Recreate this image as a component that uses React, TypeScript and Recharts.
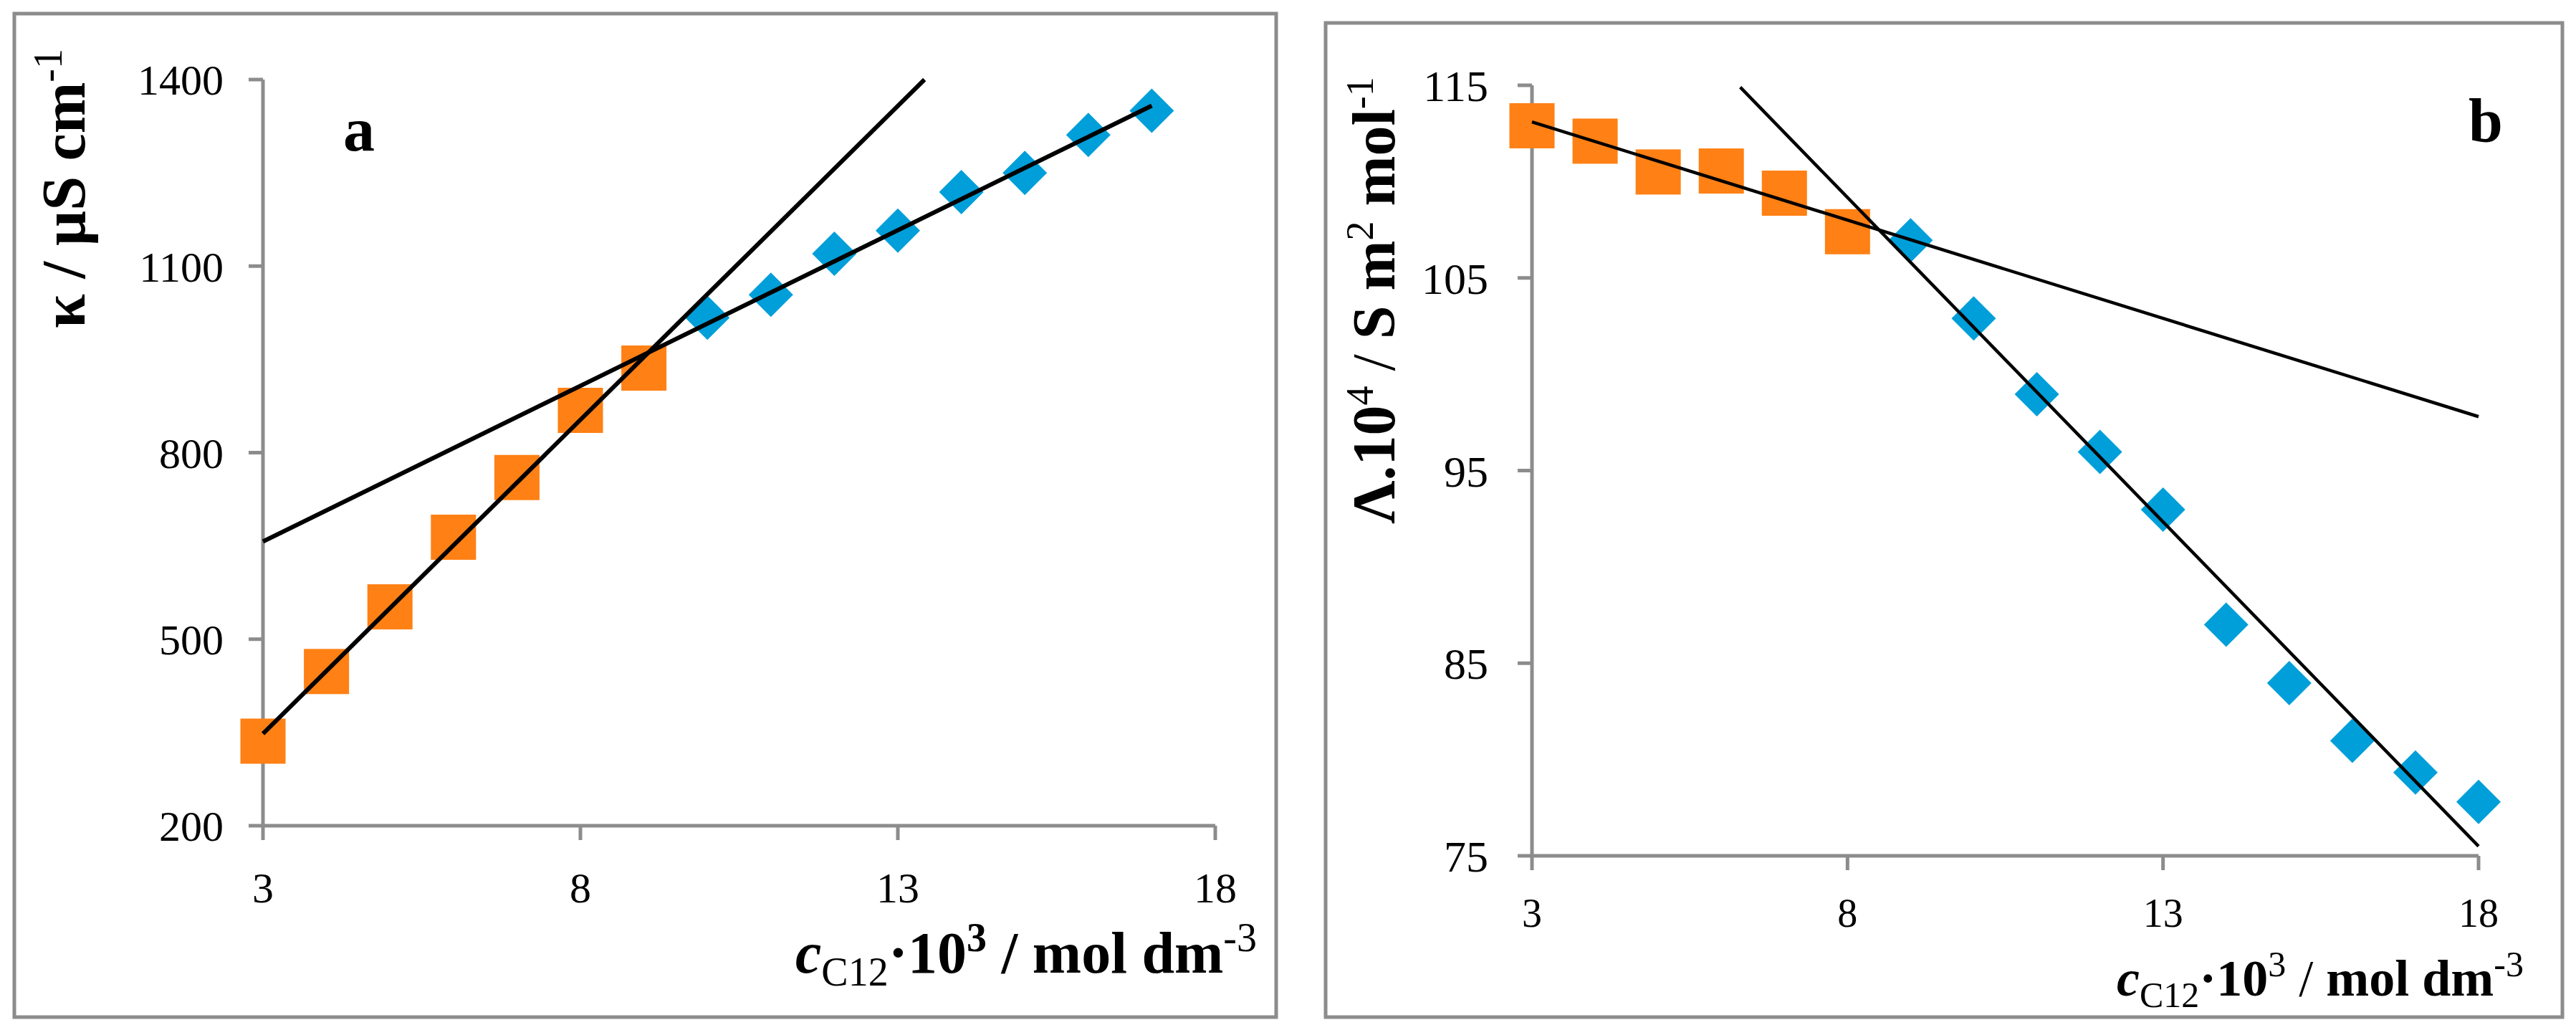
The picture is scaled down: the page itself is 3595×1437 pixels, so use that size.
import React from 'react';
import { ScatterChart, Scatter, XAxis, YAxis, Customized } from 'recharts';

// ---------- data ----------
const xTicks = [3, 8, 13, 18];
const kappaTicks = [200, 500, 800, 1100, 1400];
const lambdaTicks = [75, 85, 95, 105, 115];

// panel a : conductivity
const kappaPreX = [3, 4, 5, 6, 7, 8, 9];
const kappaPreY = [336, 448, 552, 664, 760, 868, 936];
const kappaPostX = [10, 11, 12, 13, 14, 15, 16, 17];
const kappaPostY = [1017, 1054, 1120, 1157, 1219, 1250, 1311, 1350];
const kappaFitPreX = [3, 13.42];
const kappaFitPreY = [348, 1400];
const kappaFitPostX = [3, 17];
const kappaFitPostY = [657, 1358];

// panel b : molar conductivity
const lambdaPreX = [3, 4, 5, 6, 7, 8];
const lambdaPreY = [112.9, 112.1, 110.5, 110.55, 109.4, 107.4];
const lambdaPostX = [9, 10, 11, 12, 13, 14, 15, 16, 17, 18];
const lambdaPostY = [106.95, 102.9, 98.96, 95.97, 92.97, 87.0, 83.97, 80.97, 79.33, 77.8];
const lambdaFitPreX = [3, 18];
const lambdaFitPreY = [113.1, 97.8];
const lambdaFitPostX = [6.3, 18];
const lambdaFitPostY = [114.9, 75.5];

const zip = (xs: number[], ys: number[]) => xs.map((x, i) => ({ x, y: ys[i] }));

// ---------- styles ----------
const ORANGE = '#FF8014';
const BLUE = '#009FDA';
const GREY = '#8C8C8C';
const SERIF = '"Liberation Serif", "Times New Roman", serif';

const SquareShape = (props: any) => {
  const { cx, cy } = props;
  const s = 63;
  return <rect x={cx - s / 2} y={cy - s / 2} width={s} height={s} fill={ORANGE} />;
};
const DiamondShape = (props: any) => {
  const { cx, cy } = props;
  const r = 31;
  return <path d={`M${cx},${cy - r}L${cx + r},${cy}L${cx},${cy + r}L${cx - r},${cy}Z`} fill={BLUE} />;
};
const NoShape = () => <g />;

const FrameA = () => (
  <rect x={20} y={19} width={1761} height={1400} fill="none" stroke={GREY} strokeWidth={5} />
);
const FrameB = () => (
  <rect x={50} y={32} width={1726} height={1387} fill="none" stroke={GREY} strokeWidth={5} />
);

const TitlesA = () => (
  <g fontFamily={SERIF} fill="#000">
    <text x={501} y={210} textAnchor="middle" fontWeight="bold" fontSize={88}>a</text>
    <text transform="translate(118,263) rotate(-90)" textAnchor="middle" fontWeight="bold" fontSize={86}>
      <tspan>κ / µS cm</tspan>
      <tspan dy={-32} fontSize={56} fontWeight="normal">-1</tspan>
    </text>
    <text x={1754} y={1357} textAnchor="end" fontWeight="bold" fontSize={82}>
      <tspan fontStyle="italic">c</tspan>
      <tspan dy={18} fontSize={56} fontWeight="normal">C12</tspan>
      <tspan dy={-18}>·10</tspan>
      <tspan dy={-30} fontSize={56}>3</tspan>
      <tspan dy={30}> / mol dm</tspan>
      <tspan dy={-30} fontSize={56} fontWeight="normal">-3</tspan>
    </text>
  </g>
);

const TitlesB = () => (
  <g fontFamily={SERIF} fill="#000">
    <text x={1669} y={197} textAnchor="middle" fontWeight="bold" fontSize={86}>b</text>
    <text transform="translate(146,419) rotate(-90)" textAnchor="middle" fontWeight="bold" fontSize={84}>
      <tspan>Λ.10</tspan>
      <tspan dy={-30} fontSize={54} fontWeight="normal">4</tspan>
      <tspan dy={30} fontWeight="normal"> / </tspan>
      <tspan>S m</tspan>
      <tspan dy={-30} fontSize={54} fontWeight="normal">2</tspan>
      <tspan dy={30}> mol</tspan>
      <tspan dy={-30} fontSize={54} fontWeight="normal">-1</tspan>
    </text>
    <text x={1722} y={1389} textAnchor="end" fontWeight="bold" fontSize={72}>
      <tspan fontStyle="italic">c</tspan>
      <tspan dy={16} fontSize={50} fontWeight="normal">C12</tspan>
      <tspan dy={-16}>·10</tspan>
      <tspan dy={-27} fontSize={50} fontWeight="normal">3</tspan>
      <tspan dy={27} fontWeight="normal"> / </tspan>
      <tspan>mol dm</tspan>
      <tspan dy={-27} fontSize={50} fontWeight="normal">-3</tspan>
    </text>
  </g>
);

const axisLine = { stroke: GREY, strokeWidth: 5 };
const tickLine = { stroke: GREY, strokeWidth: 5 };

export default function App() {
  return (
    <div style={{ position: 'absolute', left: 0, top: 0, width: 3595, height: 1437, background: '#fff' }}>
      <div style={{ position: 'absolute', left: 0, top: 0 }}>
        <ScatterChart width={1800} height={1437} margin={{ top: 111, right: 104, bottom: 165, left: 167 }}>
          <Customized component={FrameA} />
          <XAxis
            type="number"
            dataKey="x"
            domain={[3, 18]}
            ticks={xTicks}
            height={120}
            axisLine={axisLine}
            tickLine={tickLine}
            tickSize={20}
            tickMargin={44}
            tick={{ fontFamily: SERIF, fontSize: 60, fill: '#000' }}
          />
          <YAxis
            type="number"
            dataKey="y"
            domain={[200, 1400]}
            ticks={kappaTicks}
            width={200}
            axisLine={axisLine}
            tickLine={tickLine}
            tickSize={20}
            tickMargin={35}
            tick={{ fontFamily: SERIF, fontSize: 60, fill: '#000' }}
          />
          <Scatter data={zip(kappaPreX, kappaPreY)} shape={SquareShape} isAnimationActive={false} />
          <Scatter data={zip(kappaPostX, kappaPostY)} shape={DiamondShape} isAnimationActive={false} />
          <Scatter data={zip(kappaFitPreX, kappaFitPreY)} shape={NoShape} line={{ stroke: '#000', strokeWidth: 6 }} isAnimationActive={false} />
          <Scatter data={zip(kappaFitPostX, kappaFitPostY)} shape={NoShape} line={{ stroke: '#000', strokeWidth: 6 }} isAnimationActive={false} />
          <Customized component={TitlesA} />
        </ScatterChart>
      </div>
      <div style={{ position: 'absolute', left: 1800, top: 0 }}>
        <ScatterChart width={1795} height={1437} margin={{ top: 119, right: 136, bottom: 123, left: 138 }}>
          <Customized component={FrameB} />
          <XAxis
            type="number"
            dataKey="x"
            domain={[3, 18]}
            ticks={xTicks}
            height={120}
            axisLine={axisLine}
            tickLine={tickLine}
            tickSize={20}
            tickMargin={39}
            tick={{ fontFamily: SERIF, fontSize: 56, fill: '#000' }}
          />
          <YAxis
            type="number"
            dataKey="y"
            domain={[75, 115]}
            ticks={lambdaTicks}
            width={200}
            axisLine={axisLine}
            tickLine={tickLine}
            tickSize={20}
            tickMargin={41}
            tick={{ fontFamily: SERIF, fontSize: 62, fill: '#000' }}
          />
          <Scatter data={zip(lambdaPreX, lambdaPreY)} shape={SquareShape} isAnimationActive={false} />
          <Scatter data={zip(lambdaPostX, lambdaPostY)} shape={DiamondShape} isAnimationActive={false} />
          <Scatter data={zip(lambdaFitPreX, lambdaFitPreY)} shape={NoShape} line={{ stroke: '#000', strokeWidth: 4.5 }} isAnimationActive={false} />
          <Scatter data={zip(lambdaFitPostX, lambdaFitPostY)} shape={NoShape} line={{ stroke: '#000', strokeWidth: 4.5 }} isAnimationActive={false} />
          <Customized component={TitlesB} />
        </ScatterChart>
      </div>
    </div>
  );
}
